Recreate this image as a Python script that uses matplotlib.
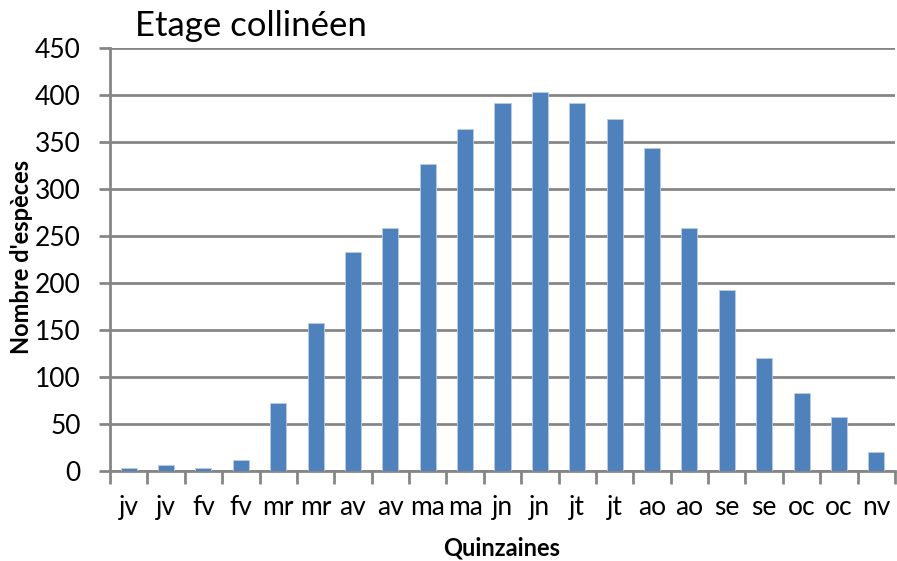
import matplotlib
matplotlib.use("Agg")
import matplotlib.pyplot as plt
import numpy as np

categories = ["jv", "jv", "fv", "fv", "mr", "mr", "av", "av", "ma", "ma", "jn",
              "jn", "jt", "jt", "ao", "ao", "se", "se", "oc", "oc", "nv"]
values = [3, 6, 3, 12, 72, 157, 233, 259, 327, 364, 392,
          403, 392, 375, 344, 259, 193, 120, 83, 57, 20]
yticks = [0, 50, 100, 150, 200, 250, 300, 350, 400, 450]

plt.rcParams['font.family'] = ['Lato', 'DejaVu Sans']

fig = plt.figure(figsize=(8.97, 5.61), dpi=100)
ax = fig.add_axes([110/897, 90/561, 785/897, 423/561])

x = np.arange(len(categories))
ax.bar(x, values, width=0.43, color="#4F81BD", edgecolor="#B9CDE5", linewidth=0.6, zorder=3)

ax.set_xlim(-0.5, len(categories) - 0.5)
ax.set_ylim(0, 450)
ax.set_yticks(yticks)
ax.yaxis.grid(True, color="#868686", linewidth=2, zorder=0)
ax.set_axisbelow(True)

ax.set_xticks(x)
ax.set_xticklabels(categories)
ax.set_xticks(np.arange(-0.5, len(categories) + 0.5, 1), minor=True)
ax.tick_params(axis='x', which='major', length=0, pad=17, labelsize=19, colors='black')
ax.tick_params(axis='x', which='minor', length=9, width=2, color="#868686", direction='out')
ax.tick_params(axis='y', which='major', length=8, width=2, color="#868686", labelsize=19, pad=13)

for s in ['top', 'right']:
    ax.spines[s].set_visible(False)
for s in ['left', 'bottom']:
    ax.spines[s].set_color("#868686")
    ax.spines[s].set_linewidth(2)

fig.text(502/897, 1 - 548/561, "Quinzaines", fontsize=17, fontweight='bold', ha='center', va='center')
fig.text(22/897, 1 - 257/561, "Nombre d'espèces", fontsize=17, fontweight='bold',
         ha='center', va='center', rotation=90)

fig.text(135/897, 1 - 26/561, "Etage collinéen", fontsize=25, ha='left', va='center')

fig.savefig("out.png", dpi=100)
